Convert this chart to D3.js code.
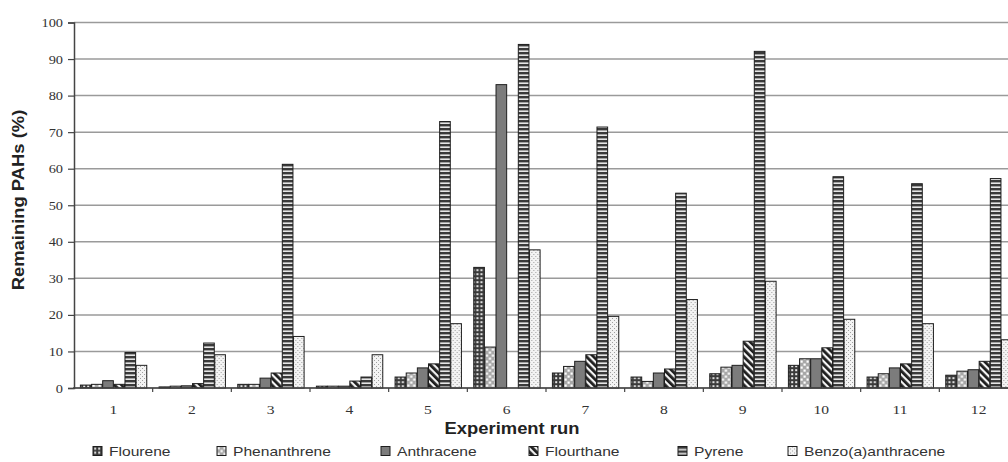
<!DOCTYPE html>
<html>
<head>
<meta charset="utf-8">
<script src="https://cdn.jsdelivr.net/npm/d3@7"></script>
<style>
  html, body { margin: 0; padding: 0; background: #fff; }
  svg { display: block; }
</style>
</head>
<body>
<svg id="chart" width="1008" height="462"></svg>
<script>
// ---- data ----
const runs = ["1","2","3","4","5","6","7","8","9","10","11","12"];
const seriesNames = ["Flourene","Phenanthrene","Anthracene","Flourthane","Pyrene","Benzo(a)anthracene"];
const flourene     = [0.8, 0.3, 1.0, 0.5, 3.0, 33.0, 4.1, 3.0, 3.9, 6.2, 3.0, 3.5];
const phenanthrene = [1.0, 0.5, 1.0, 0.5, 4.1, 11.2, 5.9, 1.8, 5.7, 8.0, 3.9, 4.6];
const anthracene   = [2.0, 0.6, 2.7, 0.5, 5.5, 83.0, 7.3, 4.1, 6.2, 8.0, 5.5, 5.0];
const flourthane   = [1.0, 1.2, 4.1, 1.9, 6.6, 0.0, 9.1, 5.2, 12.8, 11.0, 6.6, 7.3];
const pyrene       = [9.7, 12.3, 61.2, 3.0, 72.9, 94.0, 71.4, 53.3, 92.1, 57.8, 55.9, 57.3];
const benzo        = [6.2, 9.1, 14.1, 9.1, 17.6, 37.8, 19.6, 24.2, 29.2, 18.8, 17.6, 13.2];
const yTicks = [0,10,20,30,40,50,60,70,80,90,100];
const seriesValues = [flourene, phenanthrene, anthracene, flourthane, pyrene, benzo];

// ---- setup ----
const svg = d3.select("#chart");
const W = 1008, H = 462;
const mLeft = 74, mRight = 1018, mTop = 22.5, mBottom = 388;

const x = d3.scaleBand().domain(runs).range([mLeft, mRight]).padding(0);
const xi = d3.scaleBand().domain(seriesNames).range([0, x.bandwidth()]).paddingInner(0).paddingOuter(0.53);
const y = d3.scaleLinear().domain([0, 100]).range([mBottom, mTop]);

// ---- patterns ----
const defs = svg.append("defs");
const pid = ["p0","p1","p2","p3","p4","p5"];
let p = defs.append("pattern").attr("id","p0").attr("patternUnits","userSpaceOnUse").attr("width",4).attr("height",4);
p.append("rect").attr("width",4).attr("height",4).attr("fill","#3a3a3a");
p.append("rect").attr("x",1.2).attr("y",1.2).attr("width",2).attr("height",2).attr("fill","#e8e8e8");
p = defs.append("pattern").attr("id","p1").attr("patternUnits","userSpaceOnUse").attr("width",6).attr("height",6);
p.append("rect").attr("width",6).attr("height",6).attr("fill","#a8a8a8");
p.append("rect").attr("x",0.5).attr("y",0.5).attr("width",2.2).attr("height",2.2).attr("fill","#fff");
p.append("rect").attr("x",3.5).attr("y",3.5).attr("width",2.2).attr("height",2.2).attr("fill","#fff");
p = defs.append("pattern").attr("id","p2").attr("patternUnits","userSpaceOnUse").attr("width",4).attr("height",4);
p.append("rect").attr("width",4).attr("height",4).attr("fill","#7c7c7c");
p = defs.append("pattern").attr("id","p3").attr("patternUnits","userSpaceOnUse").attr("width",5).attr("height",5)
  .attr("patternTransform","rotate(-45)");
p.append("rect").attr("width",5).attr("height",5).attr("fill","#f4f4f4");
p.append("rect").attr("width",2.8).attr("height",5).attr("fill","#1e1e1e");
p = defs.append("pattern").attr("id","p4").attr("patternUnits","userSpaceOnUse").attr("width",4).attr("height",4);
p.append("rect").attr("width",4).attr("height",4).attr("fill","#3a3a3a");
p.append("rect").attr("y",2.4).attr("width",4).attr("height",1.6).attr("fill","#e6e6e6");
p = defs.append("pattern").attr("id","p5").attr("patternUnits","userSpaceOnUse").attr("width",4).attr("height",4);
p.append("rect").attr("width",4).attr("height",4).attr("fill","#f3f3f3");
p.append("rect").attr("x",0).attr("y",0).attr("width",1).attr("height",1).attr("fill","#a0a0a0");
p.append("rect").attr("x",2).attr("y",2).attr("width",1).attr("height",1).attr("fill","#a0a0a0");

svg.append("rect").attr("width",W).attr("height",H).attr("fill","#fff");

// ---- gridlines ----
svg.append("g").selectAll("line").data(yTicks).join("line")
  .attr("x1", mLeft).attr("x2", W)
  .attr("y1", d => y(d)).attr("y2", d => y(d))
  .attr("stroke", "#9a9a9a").attr("stroke-width", 1.5);

// ---- bars ----
const groups = svg.append("g").selectAll("g").data(runs).join("g")
  .attr("transform", d => `translate(${x(d)},0)`);
groups.selectAll("rect").data((r, i) => seriesNames.map((s, j) => ({s, j, v: seriesValues[j][i]})))
  .join("rect")
  .attr("x", d => xi(d.s) + 0.5)
  .attr("width", xi.bandwidth() - 0.5)
  .attr("y", d => y(d.v))
  .attr("height", d => y(0) - y(d.v))
  .attr("fill", d => `url(#${pid[d.j]})`)
  .attr("stroke", "#1e1e1e").attr("stroke-width", 1);

// ---- axes ----
const yAxis = d3.axisLeft(y).tickValues(yTicks).tickSize(6).tickPadding(6).tickFormat(d3.format("d"));
const yg = svg.append("g").attr("transform", `translate(${mLeft},0)`).call(yAxis);
yg.select(".domain").attr("stroke", "#444").attr("stroke-width", 1.5);
yg.selectAll(".tick line").attr("stroke", "#444").attr("stroke-width", 1.2);
yg.selectAll(".tick text").remove();
yg.selectAll(".tick").append("text")
  .attr("transform", "translate(-11,4) scale(1.25,1)")
  .attr("text-anchor", "end")
  .attr("font-family", "Liberation Serif, Times New Roman, serif")
  .attr("font-size", 11.5).attr("fill", "#333")
  .text(d => d);

const xg = svg.append("g").attr("transform", `translate(0,${mBottom})`);
xg.append("line").attr("x1", mLeft - 1).attr("x2", W).attr("y1", 0).attr("y2", 0)
  .attr("stroke", "#444").attr("stroke-width", 1.5);
xg.selectAll("line.t").data(runs.slice(1)).join("line").attr("class", "t")
  .attr("x1", d => x(d)).attr("x2", d => x(d)).attr("y1", 0).attr("y2", 4)
  .attr("stroke", "#444").attr("stroke-width", 1.2);
xg.selectAll("text").data(runs).join("text")
  .attr("transform", d => `translate(${x(d) + x.bandwidth() / 2},26) scale(1.3,1)`)
  .attr("text-anchor", "middle")
  .attr("font-family", "Liberation Serif, Times New Roman, serif")
  .attr("font-size", 12).attr("fill", "#333")
  .text(d => d);

// ---- titles ----
svg.append("text")
  .attr("transform", "translate(512,433.5) scale(1.15,1)")
  .attr("text-anchor", "middle")
  .attr("font-family", "Liberation Sans, Arial, sans-serif")
  .attr("font-weight", "bold").attr("font-size", 16).attr("fill", "#222")
  .text("Experiment run");
svg.append("text")
  .attr("transform", "translate(24,200) rotate(-90) scale(1.15,1)")
  .attr("text-anchor", "middle")
  .attr("font-family", "Liberation Sans, Arial, sans-serif")
  .attr("font-weight", "bold").attr("font-size", 16).attr("fill", "#222")
  .text("Remaining PAHs (%)");

// ---- legend ----
const legendX = [93, 217, 381, 529, 678, 788];
const lg = svg.append("g").selectAll("g").data(seriesNames).join("g")
  .attr("transform", (d, i) => `translate(${legendX[i]},446.5)`);
lg.append("rect").attr("width", 9).attr("height", 9)
  .attr("fill", (d, i) => `url(#${pid[i]})`)
  .attr("stroke", "#1e1e1e").attr("stroke-width", 1);
lg.append("text")
  .attr("transform", "translate(16,9) scale(1.2,1)")
  .attr("font-family", "Liberation Sans, Arial, sans-serif")
  .attr("font-size", 13).attr("fill", "#333")
  .text(d => d);
</script>
</body>
</html>
